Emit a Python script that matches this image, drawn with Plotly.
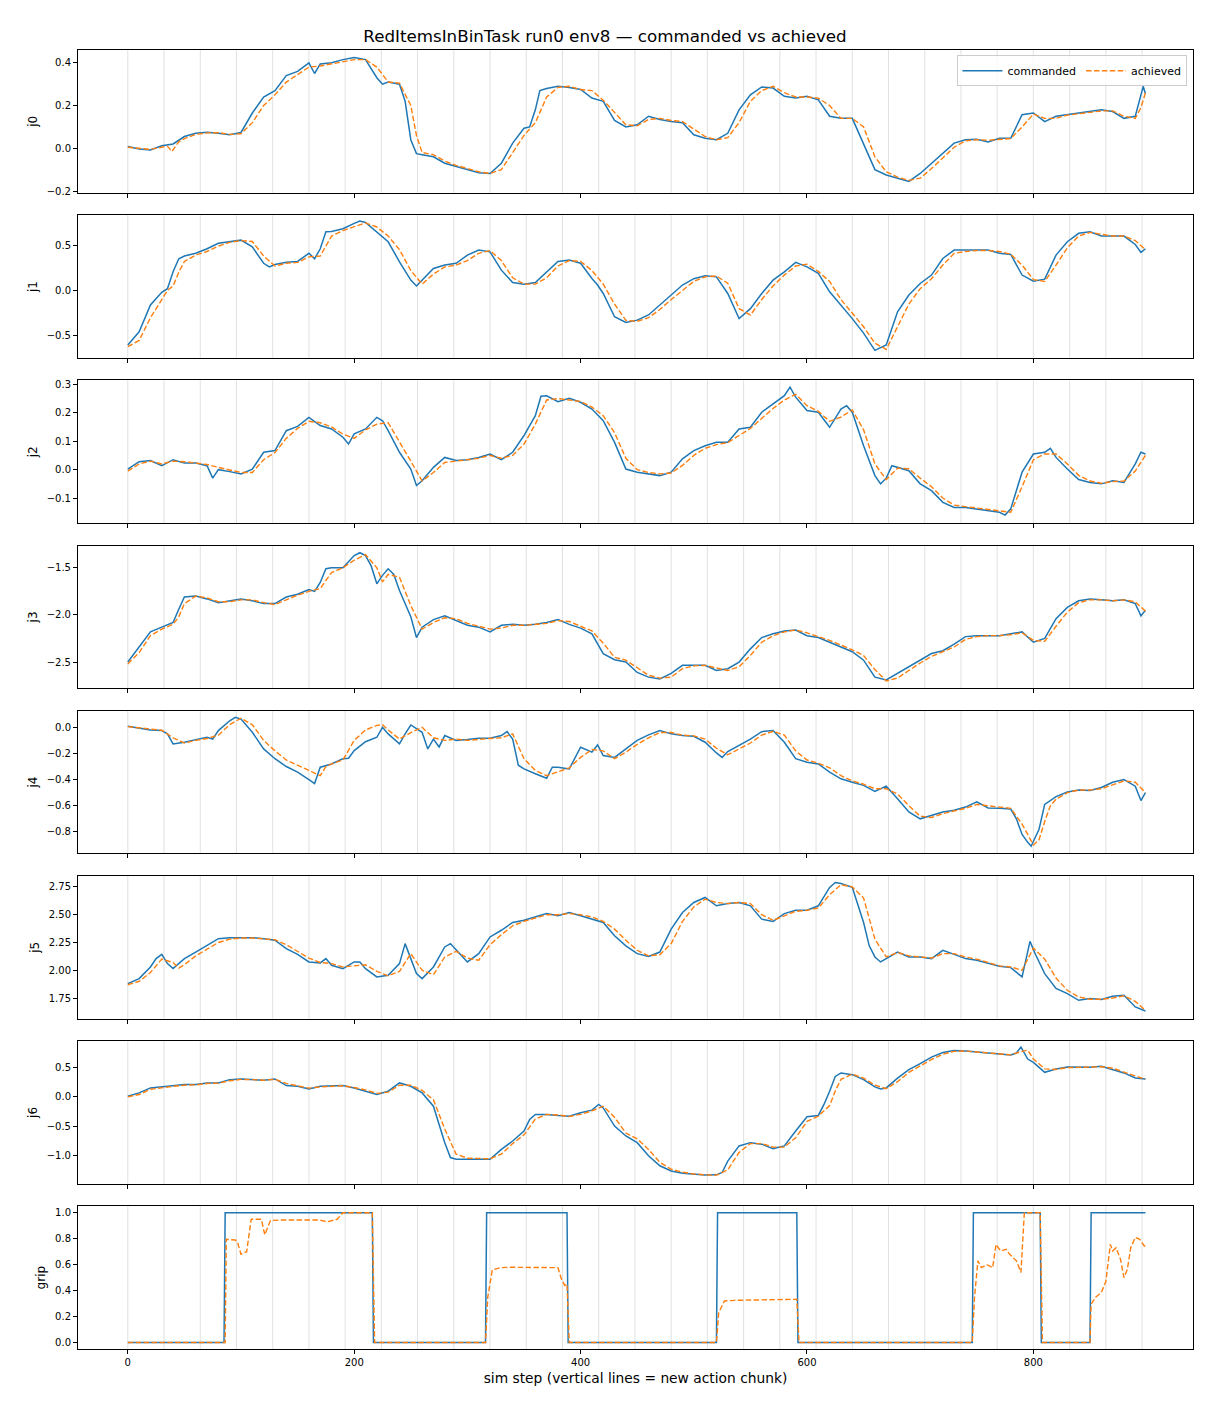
import plotly.graph_objects as go
from plotly.subplots import make_subplots


# ==================================================
# 1. data ((step, value) pairs)
# ==================================================

chunk_starts = [0, 32, 64, 96, 128, 160, 192, 224, 256, 288, 320, 352, 384, 416,
                448, 480, 512, 544, 576, 608, 640, 672, 704, 736, 768, 800, 832,
                864, 896]

joint_names = ["j0", "j1", "j2", "j3", "j4", "j5", "j6", "grip"]

j0_cmd = [(0, 0.008), (10, -0.003), (20, -0.008), (30, 0.012), (40, 0.02), (50, 0.055), (60, 0.07),
          (70, 0.075), (80, 0.07), (90, 0.063), (100, 0.074), (110, 0.165), (120, 0.24), (130, 0.27),
          (140, 0.34), (150, 0.36), (160, 0.4), (165, 0.35), (170, 0.395), (180, 0.4), (190, 0.415),
          (200, 0.425), (210, 0.415), (220, 0.33), (225, 0.3), (230, 0.31), (240, 0.3), (245, 0.22),
          (250, 0.04), (255, -0.025), (260, -0.03), (270, -0.04), (280, -0.07), (290, -0.085),
          (300, -0.1), (310, -0.115), (320, -0.118), (330, -0.07), (340, 0.024), (350, 0.094),
          (355, 0.1), (360, 0.18), (364, 0.27), (370, 0.28), (380, 0.29), (390, 0.285), (400, 0.275),
          (410, 0.235), (420, 0.22), (430, 0.13), (440, 0.1), (450, 0.11), (460, 0.15), (470, 0.135),
          (480, 0.125), (490, 0.12), (500, 0.063), (510, 0.047), (520, 0.04), (530, 0.07), (540, 0.18),
          (550, 0.25), (560, 0.287), (570, 0.282), (580, 0.243), (590, 0.235), (600, 0.243),
          (610, 0.227), (620, 0.15), (630, 0.14), (640, 0.14), (650, 0.02), (660, -0.1), (670, -0.125),
          (680, -0.14), (690, -0.155), (700, -0.118), (710, -0.07), (720, -0.024), (730, 0.024),
          (740, 0.04), (750, 0.042), (760, 0.03), (770, 0.047), (780, 0.047), (790, 0.157),
          (800, 0.165), (810, 0.125), (820, 0.15), (830, 0.157), (840, 0.165), (850, 0.172),
          (860, 0.18), (870, 0.172), (880, 0.14), (890, 0.15), (895, 0.243), (897, 0.29), (899, 0.255)]
j0_ach = [(0, 0.005), (10, 0.0), (20, -0.005), (30, 0.005), (35, 0.01), (39, -0.015), (45, 0.03),
          (50, 0.045), (60, 0.065), (70, 0.072), (80, 0.073), (90, 0.065), (100, 0.068), (110, 0.12),
          (120, 0.2), (130, 0.25), (140, 0.31), (150, 0.345), (160, 0.38), (170, 0.385), (180, 0.395),
          (190, 0.405), (200, 0.415), (210, 0.415), (220, 0.38), (230, 0.31), (240, 0.305), (250, 0.2),
          (255, 0.06), (260, -0.02), (270, -0.03), (280, -0.06), (290, -0.08), (300, -0.095),
          (310, -0.11), (320, -0.118), (330, -0.1), (340, -0.02), (350, 0.06), (360, 0.12),
          (370, 0.24), (380, 0.285), (390, 0.29), (400, 0.275), (410, 0.27), (420, 0.225), (430, 0.17),
          (440, 0.11), (450, 0.105), (460, 0.135), (470, 0.14), (480, 0.13), (490, 0.125), (500, 0.09),
          (510, 0.055), (520, 0.04), (530, 0.05), (540, 0.12), (550, 0.22), (560, 0.27), (570, 0.29),
          (580, 0.26), (590, 0.24), (600, 0.24), (610, 0.235), (620, 0.2), (630, 0.14), (640, 0.14),
          (650, 0.1), (660, -0.04), (670, -0.11), (680, -0.135), (690, -0.15), (700, -0.14),
          (710, -0.095), (720, -0.045), (730, 0.005), (740, 0.035), (750, 0.04), (760, 0.038),
          (770, 0.04), (780, 0.045), (790, 0.1), (800, 0.16), (810, 0.14), (820, 0.14), (830, 0.155),
          (840, 0.16), (850, 0.168), (860, 0.175), (870, 0.175), (880, 0.15), (890, 0.14), (895, 0.19),
          (899, 0.26)]

j1_cmd = [(0, -0.6), (10, -0.456), (20, -0.16), (30, -0.02), (35, 0.02), (40, 0.206), (45, 0.35),
          (50, 0.38), (60, 0.41), (70, 0.46), (80, 0.52), (90, 0.54), (100, 0.555), (110, 0.48),
          (120, 0.3), (125, 0.26), (130, 0.287), (140, 0.31), (150, 0.32), (160, 0.41), (165, 0.35),
          (170, 0.46), (175, 0.647), (180, 0.65), (190, 0.68), (200, 0.74), (205, 0.765), (210, 0.75),
          (220, 0.647), (230, 0.537), (240, 0.316), (250, 0.114), (255, 0.05), (260, 0.114),
          (270, 0.243), (280, 0.28), (290, 0.3), (300, 0.39), (310, 0.445), (320, 0.426), (330, 0.224),
          (340, 0.088), (350, 0.07), (360, 0.088), (370, 0.206), (380, 0.32), (390, 0.335), (400, 0.3),
          (410, 0.132), (415, 0.06), (420, -0.033), (430, -0.29), (440, -0.353), (450, -0.327),
          (460, -0.27), (470, -0.16), (480, -0.05), (490, 0.06), (500, 0.13), (510, 0.162), (520, 0.15),
          (530, -0.033), (540, -0.31), (550, -0.2), (560, -0.033), (570, 0.114), (580, 0.206),
          (590, 0.31), (600, 0.26), (610, 0.19), (620, -0.015), (630, -0.16), (640, -0.31),
          (650, -0.47), (660, -0.66), (670, -0.6), (680, -0.235), (690, -0.05), (700, 0.077),
          (710, 0.17), (720, 0.353), (730, 0.445), (740, 0.445), (750, 0.445), (760, 0.445),
          (770, 0.41), (780, 0.397), (790, 0.17), (800, 0.103), (810, 0.125), (820, 0.39), (830, 0.537),
          (840, 0.63), (850, 0.647), (860, 0.6), (870, 0.6), (880, 0.6), (890, 0.507), (895, 0.42),
          (899, 0.46)]
j1_ach = [(0, -0.62), (10, -0.55), (20, -0.3), (30, -0.1), (35, 0.0), (40, 0.05), (45, 0.2), (50, 0.32),
          (60, 0.39), (70, 0.43), (80, 0.49), (90, 0.53), (100, 0.55), (110, 0.54), (120, 0.38),
          (130, 0.27), (140, 0.3), (150, 0.31), (160, 0.37), (170, 0.38), (180, 0.6), (190, 0.66),
          (200, 0.7), (210, 0.745), (220, 0.7), (230, 0.6), (240, 0.45), (250, 0.22), (260, 0.07),
          (270, 0.18), (280, 0.26), (290, 0.28), (300, 0.33), (310, 0.41), (320, 0.44), (330, 0.33),
          (340, 0.14), (350, 0.07), (360, 0.07), (370, 0.14), (380, 0.27), (390, 0.33), (400, 0.32),
          (410, 0.22), (420, 0.07), (430, -0.15), (440, -0.33), (450, -0.34), (460, -0.3), (470, -0.21),
          (480, -0.1), (490, 0.0), (500, 0.1), (510, 0.15), (520, 0.16), (530, 0.08), (540, -0.2),
          (550, -0.27), (560, -0.1), (570, 0.05), (580, 0.17), (590, 0.27), (600, 0.29), (610, 0.21),
          (620, 0.1), (630, -0.1), (640, -0.25), (650, -0.4), (660, -0.58), (670, -0.65), (680, -0.4),
          (690, -0.15), (700, 0.02), (710, 0.13), (720, 0.28), (730, 0.41), (740, 0.43), (750, 0.44),
          (760, 0.44), (770, 0.43), (780, 0.4), (790, 0.28), (800, 0.12), (810, 0.1), (820, 0.28),
          (830, 0.47), (840, 0.6), (850, 0.64), (860, 0.62), (870, 0.6), (880, 0.6), (890, 0.55),
          (899, 0.45)]

j2_cmd = [(0, 0.002), (10, 0.028), (20, 0.032), (30, 0.014), (40, 0.035), (50, 0.023), (60, 0.023),
          (70, 0.014), (75, -0.03), (80, 0.0), (90, -0.007), (100, -0.015), (110, 0.002), (120, 0.061),
          (130, 0.067), (140, 0.137), (150, 0.152), (160, 0.184), (170, 0.155), (180, 0.143),
          (190, 0.114), (195, 0.09), (200, 0.126), (210, 0.143), (220, 0.184), (225, 0.172),
          (230, 0.137), (240, 0.061), (250, 0.002), (255, -0.056), (260, -0.039), (270, 0.008),
          (280, 0.043), (290, 0.032), (300, 0.035), (310, 0.043), (320, 0.055), (330, 0.035),
          (340, 0.061), (350, 0.12), (360, 0.19), (365, 0.258), (370, 0.26), (380, 0.239), (390, 0.251),
          (400, 0.237), (410, 0.213), (420, 0.172), (430, 0.096), (440, 0.002), (450, -0.009),
          (460, -0.015), (470, -0.021), (480, -0.009), (490, 0.038), (500, 0.067), (510, 0.084),
          (520, 0.096), (530, 0.096), (540, 0.143), (550, 0.149), (560, 0.202), (570, 0.231),
          (580, 0.26), (585, 0.29), (590, 0.255), (600, 0.208), (610, 0.202), (620, 0.149), (630, 0.213),
          (635, 0.225), (640, 0.202), (650, 0.084), (660, -0.021), (665, -0.05), (670, -0.03),
          (675, 0.014), (680, 0.008), (690, -0.004), (700, -0.05), (710, -0.074), (720, -0.115),
          (730, -0.133), (740, -0.133), (750, -0.138), (760, -0.144), (770, -0.15), (775, -0.16),
          (780, -0.138), (790, -0.009), (800, 0.055), (810, 0.061), (815, 0.075), (820, 0.043),
          (830, 0.002), (840, -0.035), (850, -0.045), (860, -0.05), (870, -0.039), (880, -0.045),
          (890, 0.02), (895, 0.061), (899, 0.055)]
j2_ach = [(0, -0.005), (10, 0.02), (20, 0.03), (30, 0.02), (40, 0.03), (50, 0.028), (60, 0.023),
          (70, 0.018), (80, 0.008), (90, 0.0), (100, -0.01), (110, -0.01), (120, 0.035), (130, 0.06),
          (140, 0.11), (150, 0.145), (160, 0.17), (170, 0.165), (180, 0.15), (190, 0.125), (200, 0.11),
          (210, 0.14), (220, 0.16), (230, 0.165), (240, 0.1), (250, 0.03), (260, -0.04), (270, -0.01),
          (280, 0.025), (290, 0.03), (300, 0.035), (310, 0.04), (320, 0.05), (330, 0.04), (340, 0.05),
          (350, 0.09), (360, 0.16), (370, 0.245), (380, 0.25), (390, 0.245), (400, 0.24), (410, 0.22),
          (420, 0.19), (430, 0.13), (440, 0.04), (450, 0.0), (460, -0.01), (470, -0.015),
          (480, -0.012), (490, 0.015), (500, 0.05), (510, 0.075), (520, 0.088), (530, 0.095),
          (540, 0.12), (550, 0.145), (560, 0.18), (570, 0.215), (580, 0.245), (590, 0.265),
          (600, 0.225), (610, 0.205), (620, 0.17), (630, 0.185), (640, 0.21), (650, 0.14), (660, 0.02),
          (670, -0.035), (680, 0.005), (690, 0.003), (700, -0.03), (710, -0.06), (720, -0.1),
          (730, -0.125), (740, -0.13), (750, -0.135), (760, -0.14), (770, -0.145), (780, -0.15),
          (790, -0.06), (800, 0.035), (810, 0.055), (820, 0.055), (830, 0.02), (840, -0.02),
          (850, -0.04), (860, -0.048), (870, -0.042), (880, -0.04), (890, -0.005), (899, 0.05)]

j3_cmd = [(0, -2.5), (10, -2.34), (20, -2.18), (30, -2.13), (40, -2.08), (45, -1.94), (50, -1.81),
          (60, -1.8), (70, -1.83), (80, -1.87), (90, -1.85), (100, -1.83), (110, -1.85), (120, -1.88),
          (130, -1.88), (140, -1.81), (150, -1.78), (160, -1.73), (165, -1.75), (170, -1.655),
          (175, -1.51), (180, -1.5), (190, -1.5), (195, -1.44), (200, -1.37), (205, -1.34),
          (210, -1.37), (215, -1.48), (220, -1.67), (225, -1.58), (230, -1.51), (235, -1.57),
          (240, -1.74), (250, -2.02), (255, -2.24), (260, -2.13), (270, -2.05), (280, -2.01),
          (290, -2.06), (300, -2.11), (310, -2.13), (320, -2.18), (330, -2.11), (340, -2.1),
          (350, -2.11), (360, -2.1), (370, -2.08), (380, -2.05), (390, -2.1), (400, -2.14),
          (410, -2.2), (420, -2.41), (430, -2.475), (440, -2.5), (450, -2.61), (460, -2.66),
          (470, -2.68), (480, -2.62), (490, -2.535), (500, -2.535), (510, -2.535), (520, -2.59),
          (530, -2.57), (540, -2.5), (550, -2.36), (560, -2.24), (570, -2.2), (580, -2.17),
          (590, -2.16), (600, -2.22), (610, -2.24), (620, -2.29), (630, -2.34), (640, -2.39),
          (650, -2.48), (660, -2.66), (670, -2.69), (680, -2.62), (690, -2.55), (700, -2.48),
          (710, -2.41), (720, -2.38), (730, -2.31), (740, -2.23), (750, -2.22), (760, -2.22),
          (770, -2.22), (780, -2.2), (790, -2.18), (800, -2.29), (810, -2.25), (820, -2.04),
          (830, -1.92), (840, -1.85), (850, -1.83), (860, -1.84), (870, -1.85), (880, -1.84),
          (890, -1.88), (895, -2.01), (899, -1.95)]
j3_ach = [(0, -2.52), (10, -2.4), (20, -2.22), (30, -2.15), (40, -2.1), (45, -2.02), (50, -1.88),
          (60, -1.8), (70, -1.82), (80, -1.86), (90, -1.86), (100, -1.84), (110, -1.84), (120, -1.87),
          (130, -1.89), (140, -1.84), (150, -1.79), (160, -1.75), (170, -1.72), (180, -1.55),
          (190, -1.5), (200, -1.42), (210, -1.36), (220, -1.5), (225, -1.65), (230, -1.57),
          (240, -1.6), (250, -1.9), (260, -2.15), (270, -2.08), (280, -2.03), (290, -2.04),
          (300, -2.09), (310, -2.12), (320, -2.15), (330, -2.14), (340, -2.11), (350, -2.11),
          (360, -2.1), (370, -2.09), (380, -2.06), (390, -2.07), (400, -2.12), (410, -2.17),
          (420, -2.3), (430, -2.45), (440, -2.48), (450, -2.56), (460, -2.64), (470, -2.67),
          (480, -2.66), (490, -2.57), (500, -2.54), (510, -2.535), (520, -2.56), (530, -2.59),
          (540, -2.55), (550, -2.43), (560, -2.29), (570, -2.22), (580, -2.18), (590, -2.16),
          (600, -2.19), (610, -2.23), (620, -2.27), (630, -2.32), (640, -2.37), (650, -2.43),
          (660, -2.58), (670, -2.7), (680, -2.67), (690, -2.59), (700, -2.51), (710, -2.44),
          (720, -2.39), (730, -2.34), (740, -2.26), (750, -2.23), (760, -2.22), (770, -2.22),
          (780, -2.21), (790, -2.19), (800, -2.27), (810, -2.28), (820, -2.12), (830, -1.97),
          (840, -1.87), (850, -1.84), (860, -1.84), (870, -1.85), (880, -1.84), (890, -1.86),
          (899, -1.96)]

j4_cmd = [(0, 0.008), (10, -0.008), (20, -0.02), (30, -0.025), (35, -0.05), (40, -0.127),
          (50, -0.114), (60, -0.094), (70, -0.076), (75, -0.09), (80, -0.025), (90, 0.05), (95, 0.076),
          (100, 0.063), (110, -0.038), (120, -0.165), (130, -0.24), (140, -0.3), (150, -0.343),
          (160, -0.4), (165, -0.43), (170, -0.305), (180, -0.28), (190, -0.24), (195, -0.236),
          (200, -0.178), (210, -0.11), (220, -0.076), (225, 0.0), (230, -0.05), (240, -0.127),
          (245, -0.05), (250, 0.018), (260, -0.038), (265, -0.165), (270, -0.09), (275, -0.15),
          (280, -0.063), (290, -0.1), (300, -0.094), (310, -0.084), (320, -0.084), (330, -0.063),
          (335, -0.033), (340, -0.09), (345, -0.29), (350, -0.318), (360, -0.355), (370, -0.39),
          (375, -0.305), (380, -0.305), (390, -0.318), (400, -0.152), (410, -0.19), (415, -0.135),
          (420, -0.216), (430, -0.23), (440, -0.165), (450, -0.1), (460, -0.058), (470, -0.025),
          (480, -0.05), (490, -0.063), (500, -0.069), (510, -0.114), (520, -0.196), (525, -0.23),
          (530, -0.185), (540, -0.14), (550, -0.09), (560, -0.033), (570, -0.025), (580, -0.114),
          (590, -0.24), (600, -0.267), (610, -0.28), (620, -0.343), (630, -0.394), (640, -0.42),
          (650, -0.444), (660, -0.49), (670, -0.45), (680, -0.546), (690, -0.648), (700, -0.7),
          (710, -0.673), (720, -0.648), (730, -0.635), (740, -0.61), (750, -0.57), (760, -0.617),
          (770, -0.62), (780, -0.625), (785, -0.7), (790, -0.82), (795, -0.88), (798, -0.91),
          (805, -0.78), (810, -0.59), (820, -0.53), (830, -0.495), (840, -0.48), (850, -0.483),
          (860, -0.46), (870, -0.42), (880, -0.4), (890, -0.45), (895, -0.56), (899, -0.5)]
j4_ach = [(0, 0.005), (10, -0.005), (20, -0.015), (30, -0.022), (40, -0.08), (50, -0.12), (60, -0.1),
          (70, -0.085), (80, -0.06), (90, 0.02), (100, 0.07), (110, 0.02), (120, -0.1), (130, -0.18),
          (140, -0.25), (150, -0.29), (160, -0.33), (170, -0.37), (175, -0.3), (180, -0.28),
          (190, -0.25), (200, -0.1), (210, -0.02), (220, 0.015), (225, 0.02), (230, -0.02),
          (240, -0.09), (250, -0.04), (260, 0.0), (270, -0.08), (280, -0.1), (290, -0.09), (300, -0.1),
          (310, -0.09), (320, -0.085), (330, -0.08), (340, -0.05), (350, -0.24), (360, -0.33),
          (370, -0.37), (380, -0.34), (390, -0.31), (400, -0.23), (410, -0.17), (420, -0.18),
          (430, -0.24), (440, -0.19), (450, -0.13), (460, -0.08), (470, -0.04), (480, -0.04),
          (490, -0.06), (500, -0.065), (510, -0.09), (520, -0.16), (530, -0.21), (540, -0.165),
          (550, -0.12), (560, -0.06), (570, -0.03), (580, -0.06), (590, -0.18), (600, -0.25),
          (610, -0.275), (620, -0.31), (630, -0.37), (640, -0.41), (650, -0.435), (660, -0.47),
          (670, -0.47), (680, -0.51), (690, -0.6), (700, -0.68), (710, -0.69), (720, -0.66),
          (730, -0.64), (740, -0.62), (750, -0.59), (760, -0.6), (770, -0.615), (780, -0.62),
          (790, -0.74), (800, -0.9), (805, -0.86), (810, -0.72), (815, -0.6), (820, -0.55),
          (830, -0.5), (840, -0.48), (850, -0.48), (860, -0.47), (870, -0.44), (880, -0.41),
          (890, -0.42), (899, -0.5)]

j5_cmd = [(0, 1.88), (10, 1.925), (20, 2.03), (25, 2.105), (30, 2.143), (35, 2.06), (40, 2.015),
          (50, 2.105), (60, 2.164), (70, 2.224), (80, 2.284), (90, 2.293), (100, 2.293), (110, 2.293),
          (120, 2.284), (130, 2.27), (140, 2.194), (150, 2.143), (160, 2.075), (170, 2.066),
          (175, 2.105), (180, 2.045), (190, 2.015), (200, 2.075), (205, 2.075), (210, 2.015),
          (220, 1.94), (230, 1.955), (240, 2.06), (245, 2.24), (250, 2.105), (255, 1.97), (260, 1.925),
          (270, 2.03), (280, 2.21), (285, 2.24), (290, 2.185), (300, 2.075), (310, 2.15), (320, 2.3),
          (330, 2.36), (340, 2.43), (350, 2.45), (360, 2.48), (370, 2.51), (380, 2.49), (390, 2.52),
          (400, 2.49), (410, 2.46), (420, 2.43), (430, 2.31), (440, 2.22), (450, 2.15), (460, 2.125),
          (470, 2.164), (480, 2.37), (490, 2.52), (500, 2.61), (510, 2.655), (520, 2.58), (530, 2.6),
          (540, 2.61), (550, 2.58), (560, 2.46), (570, 2.44), (580, 2.51), (590, 2.54), (600, 2.54),
          (610, 2.58), (620, 2.746), (625, 2.79), (630, 2.78), (640, 2.746), (650, 2.43), (655, 2.22),
          (660, 2.12), (665, 2.075), (670, 2.105), (680, 2.164), (690, 2.12), (700, 2.12),
          (710, 2.105), (720, 2.18), (730, 2.143), (740, 2.105), (750, 2.09), (760, 2.06),
          (770, 2.036), (780, 2.024), (790, 1.94), (797, 2.26), (802, 2.14), (810, 1.97), (820, 1.836),
          (830, 1.79), (840, 1.73), (850, 1.746), (860, 1.737), (870, 1.767), (880, 1.776),
          (890, 1.67), (899, 1.633)]
j5_ach = [(0, 1.87), (10, 1.9), (20, 1.98), (30, 2.1), (40, 2.07), (45, 2.02), (50, 2.05), (60, 2.13),
          (70, 2.19), (80, 2.25), (90, 2.28), (100, 2.29), (110, 2.29), (120, 2.285), (130, 2.275),
          (140, 2.23), (150, 2.17), (160, 2.11), (170, 2.07), (180, 2.06), (190, 2.03), (200, 2.04),
          (210, 2.05), (220, 1.99), (230, 1.95), (240, 1.99), (250, 2.15), (260, 2.0), (270, 1.96),
          (280, 2.12), (290, 2.17), (300, 2.11), (310, 2.09), (320, 2.23), (330, 2.32), (340, 2.4),
          (350, 2.44), (360, 2.47), (370, 2.5), (380, 2.5), (390, 2.51), (400, 2.5), (410, 2.48),
          (420, 2.44), (430, 2.37), (440, 2.27), (450, 2.18), (460, 2.13), (470, 2.14), (480, 2.24),
          (490, 2.44), (500, 2.57), (510, 2.64), (520, 2.61), (530, 2.6), (540, 2.61), (550, 2.6),
          (560, 2.5), (570, 2.45), (580, 2.49), (590, 2.53), (600, 2.54), (610, 2.56), (620, 2.68),
          (630, 2.77), (640, 2.75), (650, 2.65), (660, 2.28), (670, 2.12), (680, 2.16), (690, 2.13),
          (700, 2.12), (710, 2.11), (720, 2.15), (730, 2.15), (740, 2.12), (750, 2.1), (760, 2.07),
          (770, 2.04), (780, 2.03), (790, 2.0), (800, 2.2), (810, 2.1), (820, 1.93), (830, 1.82),
          (840, 1.76), (850, 1.74), (860, 1.74), (870, 1.75), (880, 1.77), (890, 1.72), (899, 1.64)]

j6_cmd = [(0, 0.011), (10, 0.068), (20, 0.153), (30, 0.17), (40, 0.193), (50, 0.21), (60, 0.21),
          (70, 0.239), (80, 0.239), (90, 0.295), (100, 0.307), (110, 0.295), (120, 0.284),
          (130, 0.307), (140, 0.193), (150, 0.182), (160, 0.136), (170, 0.182), (180, 0.193),
          (190, 0.193), (200, 0.153), (210, 0.097), (220, 0.04), (230, 0.097), (240, 0.239),
          (250, 0.182), (260, 0.068), (270, -0.159), (280, -0.784), (285, -1.04), (290, -1.068),
          (300, -1.068), (310, -1.068), (320, -1.068), (330, -0.9), (340, -0.756), (350, -0.585),
          (355, -0.386), (360, -0.3), (370, -0.3), (380, -0.318), (390, -0.33), (400, -0.273),
          (410, -0.227), (416, -0.13), (420, -0.19), (430, -0.5), (440, -0.67), (450, -0.784),
          (460, -1.01), (470, -1.18), (480, -1.27), (490, -1.307), (500, -1.32), (510, -1.34),
          (520, -1.335), (525, -1.295), (530, -1.1), (540, -0.84), (550, -0.784), (560, -0.81),
          (570, -0.886), (580, -0.84), (590, -0.585), (600, -0.34), (610, -0.318), (615, -0.13),
          (620, 0.097), (625, 0.35), (630, 0.41), (640, 0.38), (650, 0.295), (660, 0.17), (665, 0.136),
          (670, 0.153), (680, 0.32), (690, 0.466), (700, 0.57), (710, 0.68), (720, 0.76), (730, 0.795),
          (740, 0.784), (750, 0.767), (760, 0.75), (770, 0.733), (780, 0.716), (785, 0.75),
          (789, 0.852), (795, 0.648), (800, 0.59), (810, 0.42), (820, 0.477), (830, 0.511),
          (840, 0.506), (850, 0.506), (860, 0.523), (870, 0.466), (880, 0.41), (890, 0.324),
          (899, 0.307)]
j6_ach = [(0, 0.0), (10, 0.04), (20, 0.13), (30, 0.16), (40, 0.18), (50, 0.2), (60, 0.205), (70, 0.23),
          (80, 0.235), (90, 0.275), (100, 0.3), (110, 0.295), (120, 0.285), (130, 0.3), (140, 0.23),
          (150, 0.19), (160, 0.15), (170, 0.17), (180, 0.185), (190, 0.19), (200, 0.16), (210, 0.12),
          (220, 0.06), (230, 0.08), (240, 0.2), (250, 0.2), (260, 0.11), (270, -0.05), (280, -0.55),
          (290, -0.98), (300, -1.05), (310, -1.06), (320, -1.06), (330, -0.98), (340, -0.8),
          (350, -0.65), (360, -0.38), (370, -0.3), (380, -0.31), (390, -0.335), (400, -0.3),
          (410, -0.24), (420, -0.16), (430, -0.35), (440, -0.62), (450, -0.72), (460, -0.9),
          (470, -1.12), (480, -1.24), (490, -1.29), (500, -1.32), (510, -1.335), (520, -1.34),
          (530, -1.25), (540, -0.95), (550, -0.8), (560, -0.8), (570, -0.86), (580, -0.86), (590, -0.7),
          (600, -0.42), (610, -0.33), (620, -0.15), (625, 0.1), (630, 0.3), (640, 0.39), (650, 0.32),
          (660, 0.2), (670, 0.14), (680, 0.26), (690, 0.42), (700, 0.53), (710, 0.64), (720, 0.73),
          (730, 0.78), (740, 0.785), (750, 0.77), (760, 0.755), (770, 0.74), (780, 0.72), (790, 0.78),
          (795, 0.8), (800, 0.65), (810, 0.48), (820, 0.47), (830, 0.5), (840, 0.505), (850, 0.505),
          (860, 0.515), (870, 0.49), (880, 0.43), (890, 0.36), (899, 0.3)]

grip_cmd = [(0, 0.0), (85, 0.0), (86, 1.0), (216, 1.0), (217, 0.0), (316, 0.0), (317, 1.0),
            (388, 1.0), (389, 0.0), (520, 0.0), (521, 1.0), (591, 1.0), (592, 0.0), (746, 0.0),
            (747, 1.0), (806, 1.0), (807, 0.0), (850, 0.0), (851, 1.0), (899, 1.0)]
grip_ach = [(0, 0.0), (86, 0.0), (87, 0.795), (95, 0.79), (97, 0.77), (100, 0.68), (105, 0.7),
            (109, 0.95), (118, 0.95), (121, 0.83), (126, 0.94), (134, 0.944), (170, 0.944), (176, 0.93),
            (185, 0.95), (190, 1.0), (216, 1.0), (218, 0.0), (316, 0.0), (318, 0.35), (322, 0.56),
            (329, 0.577), (338, 0.58), (380, 0.577), (383, 0.49), (386, 0.44), (388, 0.45), (390, 0.0),
            (520, 0.0), (522, 0.23), (527, 0.32), (536, 0.325), (591, 0.333), (593, 0.0), (746, 0.0),
            (748, 0.35), (751, 0.63), (754, 0.577), (759, 0.6), (764, 0.577), (767, 0.756),
            (771, 0.705), (776, 0.718), (779, 0.68), (785, 0.63), (789, 0.54), (792, 1.0), (806, 1.0),
            (808, 0.0), (850, 0.0), (851, 0.295), (855, 0.35), (860, 0.385), (864, 0.47), (868, 0.756),
            (870, 0.705), (873, 0.73), (877, 0.64), (880, 0.5), (883, 0.564), (886, 0.73), (890, 0.81),
            (894, 0.795), (898, 0.744), (899, 0.744)]

commanded = [j0_cmd, j1_cmd, j2_cmd, j3_cmd, j4_cmd, j5_cmd, j6_cmd, grip_cmd]
achieved = [j0_ach, j1_ach, j2_ach, j3_ach, j4_ach, j5_ach, j6_ach, grip_ach]

# y ranges / ticks per panel (as in the reference)
y_ranges = [[-0.208, 0.46], [-0.743, 0.83], [-0.188, 0.314], [-2.778, -1.264],
            [-0.965, 0.127], [1.565, 2.849], [-1.489, 0.955], [-0.05, 1.05]]
y_dticks = [0.2, 0.5, 0.1, 0.5, 0.2, 0.25, 0.5, 0.2]
y_formats = [".1f", ".1f", ".1f", ".1f", ".1f", ".2f", ".1f", ".1f"]


# ==================================================
# 2. figure
# ==================================================

BLUE = "#1f77b4"
ORANGE = "#ff7f0e"
FONT = "DejaVu Sans"

fig = make_subplots(rows=8, cols=1, shared_xaxes=True, vertical_spacing=0.0173)

for i in range(8):
    row = i + 1
    cx, cy = zip(*commanded[i])
    ax, ay = zip(*achieved[i])
    fig.add_trace(go.Scatter(x=cx, y=cy, mode="lines", name="commanded",
                             line=dict(color=BLUE, width=1.5),
                             showlegend=(i == 0), legendgroup="c"),
                  row=row, col=1)
    fig.add_trace(go.Scatter(x=ax, y=ay, mode="lines", name="achieved",
                             line=dict(color=ORANGE, width=1.4, dash="5.5px,2.4px"),
                             showlegend=(i == 0), legendgroup="a"),
                  row=row, col=1)

    # vertical chunk lines
    yref = "y domain" if row == 1 else f"y{row} domain"
    xref = "x" if row == 1 else f"x{row}"
    for s in chunk_starts:
        fig.add_shape(type="line", x0=s, x1=s, y0=0, y1=1, xref=xref, yref=yref,
                      line=dict(color="#d9d9d9", width=0.8), layer="below")

    fig.update_yaxes(range=y_ranges[i], dtick=y_dticks[i], tickformat=y_formats[i],
                     title=dict(text=joint_names[i], font=dict(size=12, color="black"), standoff=6),
                     row=row, col=1)

fig.update_xaxes(range=[-44, 941], dtick=200, showgrid=False, zeroline=False,
                 showline=True, mirror=True, linecolor="black", linewidth=1,
                 ticks="outside", ticklen=4, tickwidth=1, tickcolor="black",
                 tickfont=dict(size=10, color="black"))
fig.update_yaxes(showgrid=False, zeroline=False,
                 showline=True, mirror=True, linecolor="black", linewidth=1,
                 ticks="outside", ticklen=4, tickwidth=1, tickcolor="black",
                 tickfont=dict(size=10, color="black"))
fig.update_xaxes(title=dict(text="sim step (vertical lines = new action chunk)",
                            font=dict(size=13.8, color="black"), standoff=6),
                 row=8, col=1)

fig.update_layout(
    width=1210,
    height=1408,
    margin=dict(l=70, r=25, t=42, b=67),
    paper_bgcolor="white",
    plot_bgcolor="white",
    font=dict(family=FONT, color="black"),
    title=dict(text="RedItemsInBinTask run0 env8 — commanded vs achieved",
               x=597 / 1210, xref="container", xanchor="center",
               y=1 - 28 / 1408, yref="container", yanchor="middle",
               font=dict(size=16.7, color="black")),
    legend=dict(orientation="h", x=0.995, xanchor="right", y=0.996, yanchor="top",
                bgcolor="rgba(255,255,255,0.8)", bordercolor="#cccccc", borderwidth=1,
                font=dict(size=11, color="black"), itemwidth=40),
)

fig.write_html("out.html")
